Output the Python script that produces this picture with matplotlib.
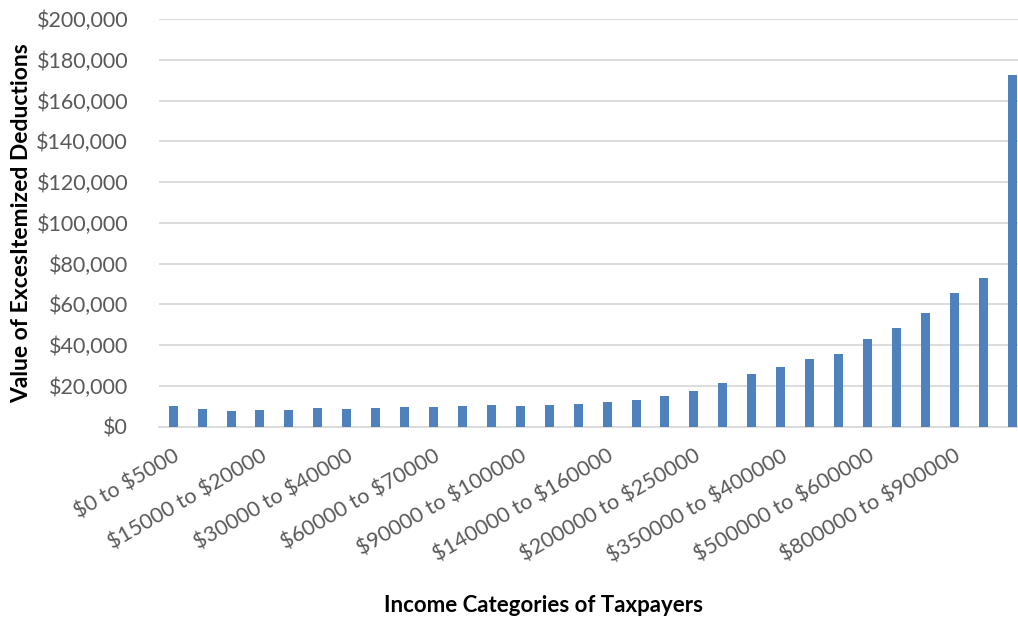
import numpy as np
import matplotlib.pyplot as plt
from matplotlib.ticker import FuncFormatter

# Income brackets and value of excess itemized deductions
categories = ["$0 to $5000", "$5000 to $10000", "$10000 to $15000", "$15000 to $20000",
              "$20000 to $25000", "$25000 to $30000", "$30000 to $40000", "$40000 to $50000",
              "$50000 to $60000", "$60000 to $70000", "$70000 to $80000", "$80000 to $90000",
              "$90000 to $100000", "$100000 to $120000", "$120000 to $140000", "$140000 to $160000",
              "$160000 to $180000", "$180000 to $200000", "$200000 to $250000", "$250000 to $300000",
              "$300000 to $350000", "$350000 to $400000", "$400000 to $450000", "$450000 to $500000",
              "$500000 to $600000", "$600000 to $700000", "$700000 to $800000", "$800000 to $900000",
              "$900000 to $1000000", "$1000000 or more"]
values = [10200, 8500, 7500, 8000, 8000, 9000, 8700, 9000, 9500, 9600,
          10300, 10600, 10150, 10450, 11100, 12100, 13100, 15050, 17500, 21600,
          25850, 29450, 33200, 35500, 43200, 48400, 55800, 65600, 72900, 172700]

plt.rcParams['font.family'] = ['Lato', 'DejaVu Sans']

W, H = 1018, 626
fig = plt.figure(figsize=(W/100, H/100), dpi=100)
left, right, top, bottom = 158.7, 1018, 19, 426.7
ax = fig.add_axes([left/W, 1-bottom/H, (right-left)/W, (bottom-top)/H])

x = np.arange(len(categories))
ax.bar(x, values, width=0.31, color='#4F81BD', zorder=3)

ax.set_ylim(0, 200000)
ax.set_xlim(-0.5, -0.5 + (right-left)/28.93)
ax.set_yticks(np.arange(0, 200001, 20000))
ax.yaxis.set_major_formatter(FuncFormatter(lambda v, p: r"\${:,.0f}".format(v)))
ax.grid(axis='y', color='#D9D9D9', linewidth=1.3, zorder=0)
ax.set_axisbelow(True)
for s in ['top', 'right', 'left']:
    ax.spines[s].set_visible(False)
ax.spines['bottom'].set_color('#D9D9D9')
ax.spines['bottom'].set_linewidth(1.3)

ax.set_xticks(x[::3])
ax.set_xticklabels([c.replace("$", r"\$") for c in categories[::3]],
                   rotation=30, ha='right', rotation_mode='anchor')
ax.tick_params(axis='both', length=0, labelsize=15.5, labelcolor='#595959')
ax.tick_params(axis='y', pad=22)
ax.tick_params(axis='x', pad=14)

fig.text(22/W, 1-223/H, "Value of ExcesItemized Deductions", rotation=90,
         ha='center', va='center', fontsize=16.5, fontweight='bold', color='black')
fig.text(543/W, 1-605/H, "Income Categories of Taxpayers",
         ha='center', va='center', fontsize=16, fontweight='bold', color='black')

plt.savefig('out.png', dpi=100)
